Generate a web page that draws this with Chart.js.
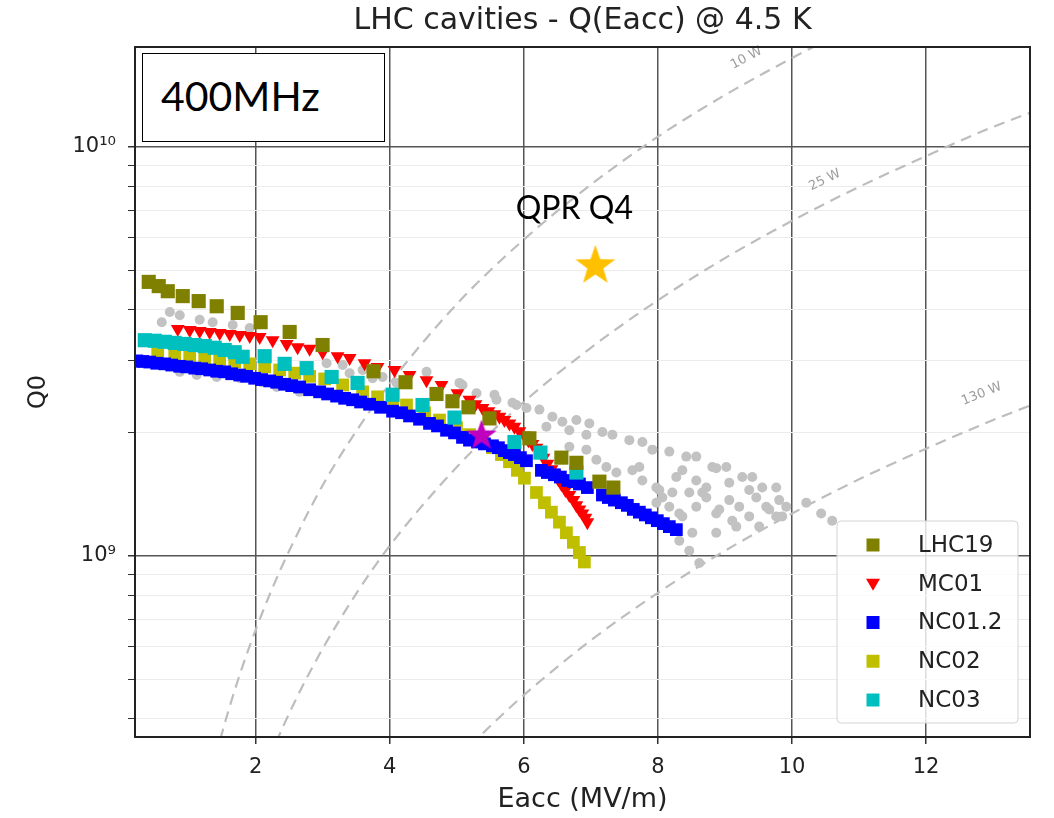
<!DOCTYPE html>
<html>
<head>
<meta charset="utf-8">
<script src="https://cdn.jsdelivr.net/npm/chart.js@4.4.1/dist/chart.umd.min.js"></script>
<style>
  body { margin: 0; background: #fff; }
  #wrap { position: relative; width: 1054px; height: 818px; }
  #freq {
    position: absolute; left: 142px; top: 53px; width: 243px; height: 89px;
    box-sizing: border-box; border: 1.5px solid #000; background: #fff;
    font: 41px Lato, sans-serif; display: flex; align-items: center;
    padding: 0 0 4px 18px;
  }
</style>
</head>
<body>
<div id="wrap">
  <canvas id="qGraph" width="1054" height="818"></canvas>
  <div id="freq">400MHz</div>
</div>
<script>
// Eacc in MV/m, Q0 unitless
const lhc19E = [0.405, 0.554, 0.689, 0.912, 1.150, 1.419, 1.732, 2.074, 2.507, 2.998, 3.758, 4.235, 4.697, 4.935, 5.174, 5.487, 6.083, 6.560, 6.784, 7.127, 7.335];
const lhc19Q = [4.68e9, 4.57e9, 4.44e9, 4.32e9, 4.20e9, 4.08e9, 3.93e9, 3.73e9, 3.53e9, 3.28e9, 2.83e9, 2.66e9, 2.49e9, 2.39e9, 2.31e9, 2.17e9, 1.94e9, 1.74e9, 1.69e9, 1.52e9, 1.47e9];

const mc01E = [0.838, 1.016, 1.165, 1.314, 1.463, 1.613, 1.762, 1.911, 2.060, 2.253, 2.462, 2.626, 2.805, 2.999, 3.222, 3.401, 3.624, 3.818, 4.071, 4.295, 4.548, 4.772, 5.010, 5.189, 5.278, 5.383, 5.472, 5.561, 5.636, 5.710, 5.785, 5.859, 5.934, 6.008, 6.068, 6.128, 6.188, 6.232, 6.292, 6.351, 6.411, 6.456, 6.515, 6.560, 6.620, 6.679, 6.739, 6.784, 6.829, 6.873, 6.918, 6.948];
const mc01Q = [3.59e9, 3.57e9, 3.55e9, 3.53e9, 3.51e9, 3.49e9, 3.47e9, 3.45e9, 3.43e9, 3.37e9, 3.30e9, 3.24e9, 3.21e9, 3.15e9, 3.08e9, 3.05e9, 2.96e9, 2.90e9, 2.85e9, 2.77e9, 2.69e9, 2.62e9, 2.50e9, 2.41e9, 2.35e9, 2.30e9, 2.26e9, 2.22e9, 2.19e9, 2.15e9, 2.11e9, 2.07e9, 2.02e9, 1.97e9, 1.92e9, 1.88e9, 1.84e9, 1.80e9, 1.74e9, 1.68e9, 1.63e9, 1.59e9, 1.54e9, 1.50e9, 1.45e9, 1.41e9, 1.37e9, 1.33e9, 1.30e9, 1.27e9, 1.24e9, 1.21e9];

const nc012E = [0.227, 0.316, 0.420, 0.525, 0.644, 0.748, 0.867, 0.972, 1.091, 1.195, 1.314, 1.419, 1.538, 1.642, 1.762, 1.866, 1.985, 2.089, 2.209, 2.313, 2.432, 2.537, 2.656, 2.805, 2.954, 3.073, 3.207, 3.327, 3.446, 3.565, 3.699, 3.863, 4.042, 4.176, 4.295, 4.444, 4.593, 4.712, 4.847, 4.966, 5.085, 5.189, 5.309, 5.413, 5.532, 5.621, 5.711, 5.785, 5.860, 5.949, 6.039, 6.262, 6.351, 6.456, 6.545, 6.650, 6.739, 6.829, 6.948, 7.172, 7.261, 7.351, 7.455, 7.544, 7.633, 7.723, 7.812, 7.902, 7.991, 8.081, 8.170, 8.275];
const nc012Q = [3.00e9, 2.99e9, 2.98e9, 2.96e9, 2.95e9, 2.93e9, 2.91e9, 2.90e9, 2.88e9, 2.87e9, 2.85e9, 2.83e9, 2.82e9, 2.79e9, 2.77e9, 2.75e9, 2.72e9, 2.70e9, 2.68e9, 2.66e9, 2.63e9, 2.61e9, 2.59e9, 2.55e9, 2.52e9, 2.49e9, 2.46e9, 2.43e9, 2.41e9, 2.38e9, 2.35e9, 2.31e9, 2.26e9, 2.24e9, 2.20e9, 2.16e9, 2.11e9, 2.08e9, 2.03e9, 2.00e9, 1.95e9, 1.92e9, 1.90e9, 1.88e9, 1.86e9, 1.84e9, 1.81e9, 1.79e9, 1.77e9, 1.74e9, 1.71e9, 1.62e9, 1.60e9, 1.58e9, 1.56e9, 1.53e9, 1.52e9, 1.50e9, 1.47e9, 1.41e9, 1.39e9, 1.37e9, 1.35e9, 1.33e9, 1.30e9, 1.28e9, 1.26e9, 1.24e9, 1.22e9, 1.20e9, 1.18e9, 1.16e9];

const nc02E = [0.539, 0.793, 1.016, 1.240, 1.463, 1.687, 1.911, 2.134, 2.358, 2.582, 2.805, 3.029, 3.297, 3.595, 3.818, 4.042, 4.250, 4.519, 4.742, 4.996, 5.189, 5.383, 5.532, 5.666, 5.785, 5.904, 6.009, 6.188, 6.307, 6.411, 6.531, 6.635, 6.739, 6.829, 6.903];
const nc02Q = [3.15e9, 3.12e9, 3.08e9, 3.05e9, 3.01e9, 2.98e9, 2.95e9, 2.90e9, 2.85e9, 2.80e9, 2.75e9, 2.71e9, 2.62e9, 2.52e9, 2.45e9, 2.39e9, 2.34e9, 2.24e9, 2.15e9, 2.06e9, 1.98e9, 1.90e9, 1.84e9, 1.77e9, 1.70e9, 1.62e9, 1.55e9, 1.43e9, 1.35e9, 1.28e9, 1.21e9, 1.14e9, 1.08e9, 1.02e9, 0.967e9];

const nc03E = [0.346, 0.495, 0.644, 0.793, 0.942, 1.091, 1.240, 1.389, 1.538, 1.687, 1.806, 2.134, 2.432, 2.760, 3.133, 3.520, 4.042, 4.489, 4.966, 5.860, 6.248, 6.784];
const nc03Q = [3.37e9, 3.36e9, 3.34e9, 3.32e9, 3.30e9, 3.28e9, 3.26e9, 3.23e9, 3.19e9, 3.15e9, 3.07e9, 3.08e9, 2.95e9, 2.88e9, 2.74e9, 2.65e9, 2.48e9, 2.34e9, 2.18e9, 1.90e9, 1.79e9, 1.60e9];

// other LHC cavities, drawn in grey
const otherE = [0.599, 0.719, 0.868, 1.165, 1.359, 1.657, 1.911, 0.868, 1.121, 1.419, 1.762, 2.090, 2.313, 2.656, 3.058, 3.297, 3.401, 3.595, 3.744, 3.893, 4.101, 4.191, 4.549, 5.040, 5.085, 5.294, 5.562, 5.592, 5.830, 5.890, 6.039, 6.232, 6.337, 6.426, 6.575, 6.679, 6.679, 6.784, 6.933, 6.933, 6.977, 7.082, 7.172, 7.231, 7.321, 7.380, 7.574, 7.619, 7.723, 7.768, 7.768, 7.917, 7.977, 8.021, 7.977, 8.066, 8.170, 8.170, 8.215, 8.274, 8.319, 8.319, 8.364, 8.364, 8.423, 8.468, 8.468, 8.513, 8.572, 8.572, 8.572, 8.617, 8.662, 8.722, 8.722, 8.811, 8.870, 8.870, 8.870, 8.915, 9.020, 9.064, 9.064, 9.109, 9.169, 9.213, 9.258, 9.362, 9.362, 9.407, 9.467, 9.511, 9.556, 9.616, 9.660, 9.765, 9.765, 9.809, 9.854, 9.914, 10.212, 10.435, 10.599];
const otherQ = [3.73e9, 3.95e9, 3.88e9, 3.78e9, 3.73e9, 3.67e9, 3.61e9, 2.82e9, 2.77e9, 2.74e9, 2.72e9, 2.66e9, 2.59e9, 2.52e9, 2.96e9, 2.93e9, 2.80e9, 2.85e9, 2.72e9, 2.74e9, 2.65e9, 2.66e9, 2.82e9, 2.65e9, 2.62e9, 2.50e9, 2.48e9, 2.41e9, 2.37e9, 2.34e9, 2.30e9, 2.28e9, 2.07e9, 2.19e9, 2.13e9, 2.03e9, 1.85e9, 2.15e9, 1.98e9, 1.82e9, 2.11e9, 1.72e9, 2.01e9, 1.65e9, 1.98e9, 1.60e9, 1.92e9, 1.62e9, 1.65e9, 1.90e9, 1.53e9, 1.82e9, 1.47e9, 1.45e9, 1.35e9, 1.39e9, 1.80e9, 1.32e9, 1.43e9, 1.56e9, 1.27e9, 1.09e9, 1.62e9, 1.25e9, 1.75e9, 1.43e9, 1.03e9, 1.14e9, 1.75e9, 1.53e9, 1.32e9, 0.961e9, 1.43e9, 1.47e9, 1.39e9, 1.65e9, 1.64e9, 1.27e9, 1.14e9, 1.30e9, 1.65e9, 1.51e9, 1.37e9, 1.22e9, 1.18e9, 1.32e9, 1.56e9, 1.45e9, 1.25e9, 1.56e9, 1.39e9, 1.18e9, 1.47e9, 1.32e9, 1.30e9, 1.47e9, 1.25e9, 1.37e9, 1.25e9, 1.32e9, 1.35e9, 1.27e9, 1.22e9];

// single measurements
const nc03StarE = [5.368];
const nc03StarQ = [1.97e9];
const qprE = [7.067];
const qprQ = [5.12e9];

// constant dissipated power lines
const p10E = [1.4, 1.6, 1.8, 2.0, 2.25, 2.5, 3.0, 3.5, 4.0, 5.0, 6.0, 7.0, 8.0, 9.0, 10.0, 10.5];
const p10Q = [3.23e8, 4.22e8, 5.35e8, 6.60e8, 8.35e8, 1.03e9, 1.49e9, 2.02e9, 2.64e9, 4.13e9, 5.94e9, 8.09e9, 1.06e10, 1.34e10, 1.65e10, 1.82e10];
const p25E = [2.2, 2.4, 2.7, 3.0, 3.5, 4.0, 5.0, 6.0, 7.0, 8.0, 9.0, 10.0, 11.0, 12.0, 13.0, 14.0];
const p25Q = [3.19e8, 3.80e8, 4.81e8, 5.94e8, 8.09e8, 1.06e9, 1.65e9, 2.38e9, 3.23e9, 4.22e9, 5.35e9, 6.60e9, 7.99e9, 9.50e9, 1.12e10, 1.29e10];
const p130E = [5.2, 5.5, 6.0, 7.0, 8.0, 9.0, 10.0, 11.0, 12.0, 13.0, 14.0];
const p130Q = [3.43e8, 3.84e8, 4.57e8, 6.22e8, 8.13e8, 1.03e9, 1.27e9, 1.54e9, 1.83e9, 2.15e9, 2.49e9];

const powerLabels = ['10 W', '25 W', '130 W'];
const powerLabelE = [9.32, 10.49, 12.83];
const powerLabelQ = [1.65e10, 8.30e9, 2.49e9];
const powerLabelAngle = [-28, -26, -22];

const xTicks = [2, 4, 6, 8, 10, 12];
const yTicks = [4e8, 5e8, 6e8, 7e8, 8e8, 9e8, 1e9, 2e9, 3e9, 4e9, 5e9, 6e9, 7e9, 8e9, 9e9, 1e10];
const yMajor = [1e9, 1e10];

const legendItems = [
    {label: 'LHC19', color: '#808000', style: 'rect'},
    {label: 'MC01', color: '#ff0000', style: 'triangle'},
    {label: 'NC01.2', color: '#0000ff', style: 'rect'},
    {label: 'NC02', color: '#bfbf00', style: 'rect'},
    {label: 'NC03', color: '#00bfbf', style: 'rect'}
];

function pts(xs, ys) {
    return xs.map((x, i) => ({x: x, y: ys[i]}));
}

// filled five-pointed star used as a point style
function starImage(radius, color) {
    let c = document.createElement('canvas');
    c.width = c.height = radius * 2 + 2;
    let g = c.getContext('2d');
    let cx = c.width / 2, cy = c.height / 2;
    g.beginPath();
    for (let i = 0; i < 10; i++) {
        let r = i % 2 ? radius * 0.4 : radius;
        let a = -Math.PI / 2 + i * Math.PI / 5;
        g.lineTo(cx + r * Math.cos(a), cy + r * Math.sin(a));
    }
    g.closePath();
    g.fillStyle = color;
    g.fill();
    return c;
}

function markers(label, xs, ys, color, style, radius, order) {
    return {
        label: label,
        data: pts(xs, ys),
        backgroundColor: color,
        borderColor: color,
        pointStyle: style,
        pointRadius: radius,
        pointRotation: style === 'triangle' ? 180 : 0,
        pointBorderWidth: 0,
        order: order
    };
}

function powerLine(xs, ys) {
    return {
        label: '',
        data: pts(xs, ys),
        showLine: true,
        borderColor: '#bdbdbd',
        borderWidth: 2.2,
        borderDash: [11, 7],
        pointRadius: 0,
        cubicInterpolationMode: 'monotone',
        order: 20
    };
}

const decorations = {
    id: 'decorations',
    afterDatasetsDraw(chart) {
        const {ctx, chartArea: a, scales: {x, y}} = chart;
        ctx.save();

        // labels of the power lines
        ctx.fillStyle = '#9c9c9c';
        ctx.font = '13px "DejaVu Sans"';
        ctx.textAlign = 'center';
        ctx.textBaseline = 'middle';
        powerLabels.forEach((t, i) => {
            ctx.save();
            ctx.translate(x.getPixelForValue(powerLabelE[i]), y.getPixelForValue(powerLabelQ[i]));
            ctx.rotate(powerLabelAngle[i] * Math.PI / 180);
            ctx.fillText(t, 0, 0);
            ctx.restore();
        });

        // label above the QPR sample
        ctx.fillStyle = '#000';
        ctx.font = '32px Lato';
        ctx.fillText('QPR Q4', x.getPixelForValue(qprE[0]) - 21, y.getPixelForValue(qprQ[0]) - 57);

        // frame
        ctx.strokeStyle = '#222';
        ctx.lineWidth = 2;
        ctx.strokeRect(a.left, a.top, a.right - a.left, a.bottom - a.top);

        // legend, lower right inside the axes
        const lw = 181, lh = 202;
        const lx = a.right - 12 - lw, ly = a.bottom - 14 - lh;
        ctx.beginPath();
        ctx.roundRect(lx, ly, lw, lh, 4);
        ctx.fillStyle = 'rgba(255,255,255,0.8)';
        ctx.fill();
        ctx.strokeStyle = '#d4d4d4';
        ctx.lineWidth = 1;
        ctx.stroke();
        ctx.font = '23px "DejaVu Sans"';
        ctx.textAlign = 'left';
        legendItems.forEach((item, i) => {
            const cy = ly + 24 + i * 38.75;
            const cx = lx + 36;
            ctx.fillStyle = item.color;
            ctx.beginPath();
            if (item.style === 'triangle') {
                ctx.moveTo(cx - 7, cy - 5);
                ctx.lineTo(cx + 7, cy - 5);
                ctx.lineTo(cx, cy + 7);
                ctx.closePath();
            } else {
                ctx.rect(cx - 6.5, cy - 6.5, 13, 13);
            }
            ctx.fill();
            ctx.fillStyle = '#222';
            ctx.fillText(item.label, lx + 81, cy + 1);
        });
        ctx.restore();
    }
};

let ctx = document.getElementById('qGraph').getContext('2d');
new Chart(ctx, {
    type: 'scatter',
    data: {
        datasets: [
            powerLine(p10E, p10Q),
            powerLine(p25E, p25Q),
            powerLine(p130E, p130Q),
            markers('others', otherE, otherQ, '#c2c2c2', 'circle', 5, 10),
            markers('NC02', nc02E, nc02Q, '#bfbf00', 'rect', 9, 6),
            markers('MC01', mc01E, mc01Q, '#ff0000', 'triangle', 8, 5),
            markers('NC01.2', nc012E, nc012Q, '#0000ff', 'rect', 9, 4),
            markers('NC03', nc03E, nc03Q, '#00bfbf', 'rect', 10, 3),
            markers('LHC19', lhc19E, lhc19Q, '#808000', 'rect', 10, 2),
            markers('NC03 star', nc03StarE, nc03StarQ, '#bf00bf', starImage(16, '#bf00bf'), 16, 1),
            markers('QPR Q4', qprE, qprQ, '#ffc000', starImage(21, '#ffc000'), 21, 0)
        ]
    },
    options: {
        responsive: false,
        animation: false,
        layout: {padding: {top: 1, right: 24, bottom: 0, left: 0}},
        plugins: {
            legend: {display: false},
            tooltip: {enabled: false},
            title: {
                display: true,
                text: 'LHC cavities - Q(Eacc) @ 4.5 K',
                fullSize: false,
                color: '#222',
                font: {family: 'DejaVu Sans', size: 30, weight: 'normal'},
                padding: {top: 2, bottom: 8}
            }
        },
        scales: {
            x: {
                type: 'linear',
                min: 0.2,
                max: 13.55,
                afterBuildTicks: s => { s.ticks = xTicks.map(v => ({value: v})); },
                afterFit: s => { s.height = 81; },
                ticks: {color: '#222', font: {family: 'DejaVu Sans', size: 21}, padding: 11},
                grid: {color: '#555', lineWidth: 1.5, tickLength: 7, tickColor: '#333'},
                border: {color: '#222', width: 2},
                title: {
                    display: true, text: 'Eacc (MV/m)', color: '#222',
                    font: {family: 'DejaVu Sans', size: 27}, padding: {top: 0, bottom: 2}
                }
            },
            y: {
                type: 'logarithmic',
                min: 3.61e8,
                max: 1.756e10,
                afterBuildTicks: s => { s.ticks = yTicks.map(v => ({value: v})); },
                afterFit: s => { s.width = 135; },
                ticks: {
                    color: '#222', font: {family: 'DejaVu Sans', size: 21}, padding: 12, autoSkip: false,
                    callback: v => v === 1e9 ? '10\u2079' : (v === 1e10 ? '10\u00b9\u2070' : '')
                },
                grid: {
                    color: c => yMajor.includes(c.tick.value) ? '#555' : '#ececec',
                    lineWidth: c => yMajor.includes(c.tick.value) ? 1.5 : 1,
                    tickLength: 7,
                    tickColor: '#333'
                },
                border: {color: '#222', width: 2},
                title: {
                    display: true, text: 'Q0', color: '#222',
                    font: {family: 'DejaVu Sans', size: 24}, padding: {top: 24, bottom: 0}
                }
            }
        }
    },
    plugins: [decorations]
});
</script>
</body>
</html>
